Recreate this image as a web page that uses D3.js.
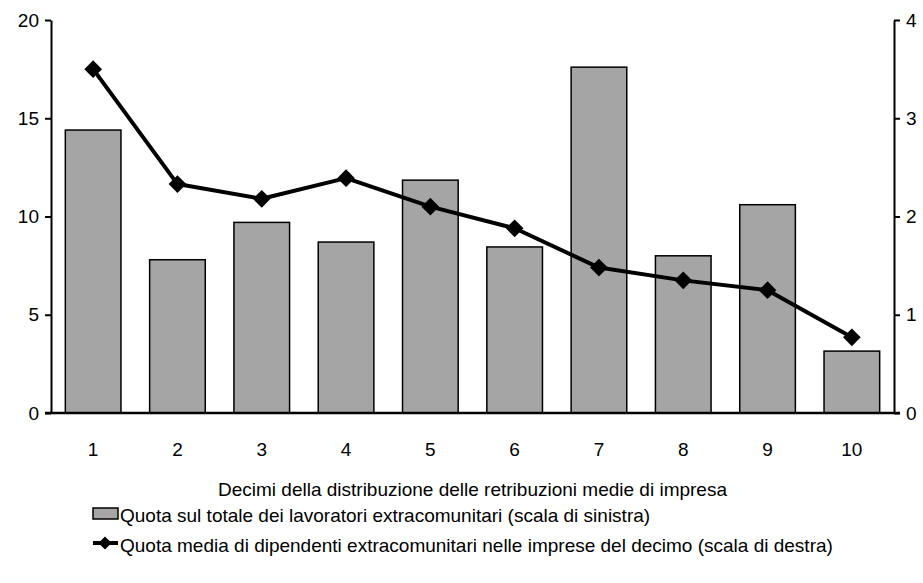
<!DOCTYPE html>
<html>
<head>
<meta charset="utf-8">
<script src="https://cdn.jsdelivr.net/npm/d3@7"></script>
<style>
  body { margin: 0; background: #fff; }
  text { font-family: "Liberation Sans", Arial, sans-serif; fill: #000; }
</style>
</head>
<body>
<div id="chart"></div>
<script>
// Data
const deciles = ["1", "2", "3", "4", "5", "6", "7", "8", "9", "10"];
const shareOfTotal = [14.4, 7.8, 9.7, 8.7, 11.85, 8.45, 17.6, 8.0, 10.6, 3.15];
const avgShare = [3.5, 2.33, 2.18, 2.39, 2.1, 1.88, 1.48, 1.35, 1.25, 0.77];
const leftTicks = [0, 5, 10, 15, 20];
const rightTicks = [0, 1, 2, 3, 4];

const xTitle = "Decimi della distribuzione delle retribuzioni medie di impresa";
const barLabel = "Quota sul totale dei lavoratori extracomunitari (scala di sinistra)";
const lineLabel = "Quota media di dipendenti extracomunitari nelle imprese del decimo (scala di destra)";

const width = 923, height = 583;
const margin = { top: 20, right: 29, bottom: 170, left: 51 };
const innerW = width - margin.left - margin.right;
const innerH = height - margin.top - margin.bottom;
const fontSize = "19px";

const svg = d3.select("#chart").append("svg").attr("width", width).attr("height", height);
const g = svg.append("g").attr("transform", `translate(${margin.left},${margin.top})`);

const x = d3.scaleBand().domain(deciles).range([0, innerW]).paddingInner(0.34).paddingOuter(0.17);
const yLeft = d3.scaleLinear().domain([0, 20]).range([innerH, 0]);
const yRight = d3.scaleLinear().domain([0, 4]).range([innerH, 0]);

// Bars
g.selectAll("rect.bar")
  .data(shareOfTotal)
  .enter()
  .append("rect")
  .attr("class", "bar")
  .attr("x", (d, i) => x(deciles[i]))
  .attr("y", (d) => yLeft(d))
  .attr("width", x.bandwidth())
  .attr("height", (d) => innerH - yLeft(d))
  .attr("fill", "#a5a5a5")
  .attr("stroke", "#000")
  .attr("stroke-width", 1.5);

// Axes
const leftAxis = g.append("g")
  .call(d3.axisLeft(yLeft).tickValues(leftTicks).tickFormat(d3.format("d")).tickSize(6).tickSizeOuter(0).tickPadding(6));
const rightAxis = g.append("g").attr("transform", `translate(${innerW},0)`)
  .call(d3.axisRight(yRight).tickValues(rightTicks).tickFormat(d3.format("d")).tickSize(6).tickSizeOuter(0).tickPadding(6));
[leftAxis, rightAxis].forEach((a) => {
  a.attr("font-size", null).attr("font-family", null);
  a.select(".domain").attr("stroke", "#000").attr("stroke-width", 2);
  a.selectAll(".tick line").attr("stroke", "#000").attr("stroke-width", 2);
  a.selectAll(".tick text").style("font-size", fontSize);
});

// Baseline
g.append("line")
  .attr("x1", -6).attr("x2", innerW + 6)
  .attr("y1", innerH).attr("y2", innerH)
  .attr("stroke", "#000").attr("stroke-width", 2.5);

// Category labels
g.selectAll("text.xlab")
  .data(deciles)
  .enter()
  .append("text")
  .attr("class", "xlab")
  .attr("x", (d) => x(d) + x.bandwidth() / 2)
  .attr("y", innerH + 43)
  .attr("text-anchor", "middle")
  .style("font-size", fontSize)
  .text((d) => d);

// Line series
const cx = (i) => x(deciles[i]) + x.bandwidth() / 2;
const line = d3.line().x((d, i) => cx(i)).y((d) => yRight(d));
g.append("path")
  .datum(avgShare)
  .attr("d", line)
  .attr("fill", "none")
  .attr("stroke", "#000")
  .attr("stroke-width", 4)
  .attr("stroke-linejoin", "round");

const diamond = d3.symbol().type(d3.symbolDiamond2).size(200);
g.selectAll("path.pt")
  .data(avgShare)
  .enter()
  .append("path")
  .attr("class", "pt")
  .attr("d", diamond)
  .attr("transform", (d, i) => `translate(${cx(i)},${yRight(d)})`)
  .attr("fill", "#000");

// Axis title
svg.append("text")
  .attr("x", margin.left + innerW / 2)
  .attr("y", 496)
  .attr("text-anchor", "middle")
  .style("font-size", fontSize)
  .text(xTitle);

// Legend
const legend = svg.append("g").attr("transform", "translate(93,0)");
legend.append("rect")
  .attr("x", 0).attr("y", 508)
  .attr("width", 25).attr("height", 11)
  .attr("fill", "#a5a5a5").attr("stroke", "#000").attr("stroke-width", 1.5);
legend.append("text")
  .attr("x", 27).attr("y", 522)
  .style("font-size", fontSize)
  .text(barLabel);

legend.append("line")
  .attr("x1", 0).attr("x2", 25).attr("y1", 543).attr("y2", 543)
  .attr("stroke", "#000").attr("stroke-width", 4);
legend.append("path")
  .attr("d", d3.symbol().type(d3.symbolDiamond2).size(110))
  .attr("transform", "translate(12,543)")
  .attr("fill", "#000");
legend.append("text")
  .attr("x", 27).attr("y", 552)
  .style("font-size", fontSize)
  .text(lineLabel);
</script>
</body>
</html>
